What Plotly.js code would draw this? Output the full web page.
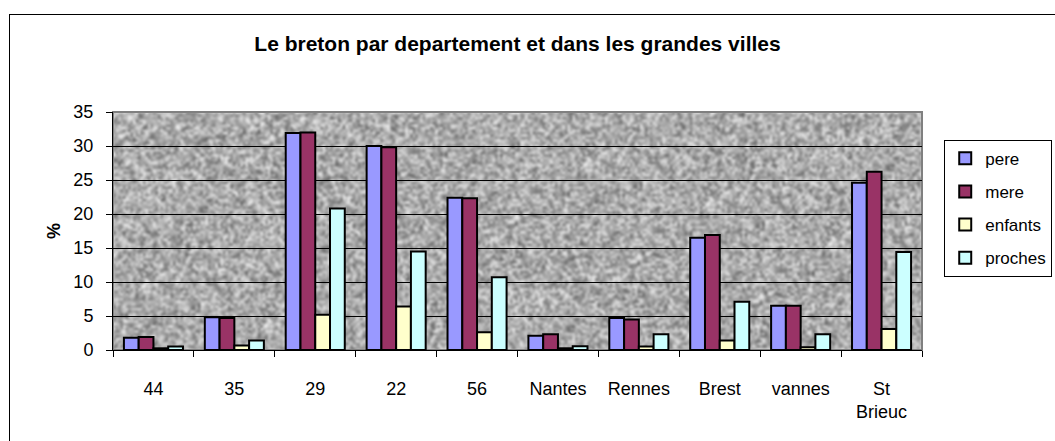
<!DOCTYPE html>
<html>
<head>
<meta charset="utf-8">
<script src="https://cdn.plot.ly/plotly-3.0.1.min.js"></script>
<style>
html,body{margin:0;padding:0;background:#fff;}
#wrap{position:relative;width:1055px;height:441px;overflow:hidden;}
#chart{width:1055px;height:441px;}
#frame{position:absolute;left:9px;top:14px;width:1100px;height:500px;border-left:1px solid #000;border-top:1px solid #000;pointer-events:none;}
</style>
</head>
<body>
<div id="wrap"><div id="chart"></div><div id="frame"></div></div>
<script>
// ---- data ----
const categories = ["44","35","29","22","56","Nantes","Rennes","Brest","vannes","St<br>Brieuc"];
const pere    = [1.8, 4.8, 31.9, 30.0, 22.4, 2.1, 4.7, 16.5, 6.5, 24.6];
const mere    = [1.9, 4.7, 32.0, 29.8, 22.3, 2.3, 4.5, 16.9, 6.5, 26.2];
const enfants = [0.25, 0.65, 5.2, 6.4, 2.6, 0.25, 0.5, 1.4, 0.4, 3.1];
const proches = [0.5, 1.4, 20.8, 14.5, 10.7, 0.55, 2.3, 7.1, 2.3, 14.4];
const seriesNames = ["pere","mere","enfants","proches"];
const seriesColors = ["#9999FF","#993366","#FFFFCC","#CCFFFF"];

// ---- granite-like background texture (deterministic) ----
function makeTexture(w, h){
  let seed = 12345;
  function rnd(){ seed = (seed * 1103515245 + 12345) & 0x7fffffff; return seed / 0x7fffffff; }
  const sw = Math.ceil(w/2.5), sh = Math.ceil(h/2.5);
  const small = document.createElement('canvas');
  small.width = sw; small.height = sh;
  const sctx = small.getContext('2d');
  const img = sctx.createImageData(sw, sh);
  for (let i = 0; i < sw*sh; i++){
    const r = (rnd()+rnd())/2;
    let v = 80 + r*185;
    v = Math.max(55, Math.min(240, v));
    img.data[i*4] = v; img.data[i*4+1] = v; img.data[i*4+2] = v; img.data[i*4+3] = 255;
  }
  sctx.putImageData(img, 0, 0);
  const c = document.createElement('canvas');
  c.width = w; c.height = h;
  const ctx = c.getContext('2d');
  ctx.imageSmoothingEnabled = true;
  ctx.filter = 'blur(1px)';
  ctx.drawImage(small, 0, 0, w, h);
  return c.toDataURL('image/png');
}
const tex = makeTexture(809, 238);

const traces = seriesNames.map((name, i) => ({
  type: 'bar',
  name: name,
  legendgroup: name,
  x: categories,
  y: [pere, mere, enfants, proches][i],
  marker: {color: seriesColors[i], line: {color: '#000', width: 2}},
  hoverinfo: 'skip'
}));

const FONT = 'Liberation Sans, Arial, sans-serif';
const layout = {
  width: 1055, height: 441,
  margin: {l: 113, r: 133, t: 112, b: 91, pad: 0, autoexpand: false},
  paper_bgcolor: '#ffffff',
  plot_bgcolor: 'rgba(0,0,0,0)',
  font: {family: FONT, size: 18, color: '#000'},
  title: {text: '<b>Le breton par departement et dans les grandes villes</b>',
          font: {size: 21, family: FONT, color: '#000'},
          x: 0.5, xref: 'paper', xanchor: 'center', y: 0.9, yref: 'container', yanchor: 'middle'},
  barmode: 'group',
  bargap: 0.27,
  bargroupgap: 0,
  showlegend: true,
  legend: {xref: 'container', yref: 'container', x: 0.895, xanchor: 'left', y: 0.683, yanchor: 'top',
           bordercolor: '#000', borderwidth: 1, bgcolor: '#fff',
           font: {size: 17, family: FONT},
           tracegroupgap: 8, traceorder: 'grouped', itemwidth: 30},
  xaxis: {type: 'category', tickson: 'boundaries', ticks: 'outside', ticklen: 6, tickcolor: '#000',
          showline: true, linecolor: '#000', linewidth: 1, showgrid: false,
          tickfont: {size: 18}, ticklabelstandoff: 22, fixedrange: true},
  yaxis: {range: [0, 35], dtick: 5, ticks: 'outside', ticklen: 6, tickcolor: '#000',
          showline: true, linecolor: '#000', linewidth: 1,
          showgrid: true, gridcolor: '#000', gridwidth: 1, zeroline: false,
          tickfont: {size: 18}, ticklabelstandoff: 9,
          title: {text: '<b>%</b>', font: {size: 18}, standoff: 8}, fixedrange: true},
  images: [{source: tex, xref: 'paper', yref: 'paper', x: 0, y: 1, sizex: 1, sizey: 1,
            sizing: 'stretch', xanchor: 'left', yanchor: 'top', layer: 'below'}],
  shapes: [{type: 'rect', xref: 'paper', yref: 'paper', x0: 0, x1: 1, y0: 0, y1: 1,
            line: {color: '#808080', width: 2}, layer: 'below'}]
};

Plotly.newPlot('chart', traces, layout, {staticPlot: true, displayModeBar: false});
</script>
</body>
</html>
